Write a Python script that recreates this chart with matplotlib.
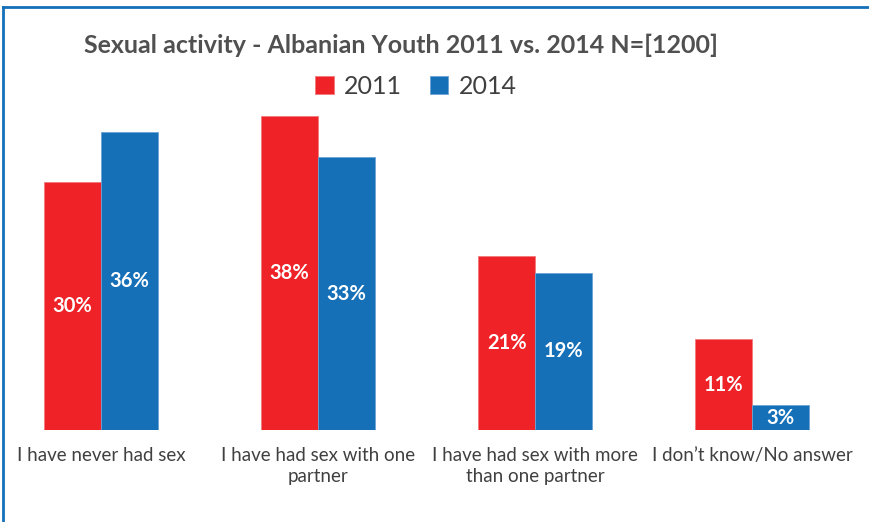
import matplotlib.pyplot as plt
from matplotlib.lines import Line2D
import numpy as np

categories = ["I have never had sex", "I have had sex with one\npartner",
              "I have had sex with more\nthan one partner", "I don\u2019t know/No answer"]
y2011 = [30, 38, 21, 11]
y2014 = [36, 33, 19, 3]

red = '#EE2227'
blue = '#1570B8'
grey = '#404040'

plt.rcParams['font.family'] = ['Lato', 'DejaVu Sans']

fig = plt.figure(figsize=(8.7, 5.22), dpi=100)
ax = fig.add_axes([0, 92/522, 1, 330/522])

x = np.arange(len(categories))
w = 0.262
b1 = ax.bar(x - w/2, y2011, w, color=red, edgecolor='#f27a7c', linewidth=0.6, label='2011')
b2 = ax.bar(x + w/2, y2014, w, color=blue, edgecolor='#6aa3d4', linewidth=0.6, label='2014')

for bars, vals in ((b1, y2011), (b2, y2014)):
    for r, v in zip(bars, vals):
        ax.text(r.get_x() + r.get_width()/2, v/2, f'{v}%', ha='center', va='center',
                color='white', fontsize=14.5, fontweight='bold')

ax.set_xlim((0 - 101)/217, (870 - 101)/217)
ax.set_ylim(0, 330/8.27)
ax.set_xticks(x)
ax.set_xticklabels(categories, fontsize=13.5, color=grey, linespacing=1.3)
ax.tick_params(axis='x', length=0, pad=12)
ax.set_yticks([])
for s in ax.spines.values():
    s.set_visible(False)

fig.text(401/870, 1 - 45/522, 'Sexual activity - Albanian Youth 2011 vs. 2014 N=[1200]',
         ha='center', va='center', fontsize=18, fontweight='bold', color='#505050')

leg = fig.legend(handles=[b1, b2], labels=['2011', '2014'], loc='center',
                 bbox_to_anchor=(416/870, 1 - 86/522), ncol=2, frameon=False,
                 fontsize=18, handlelength=0.75, handleheight=0.75, handletextpad=0.4,
                 columnspacing=1.1, labelcolor=grey)

# outer frame (partly cropped in the original)
fig.add_artist(Line2D([3/870, 3/870], [0, 1 - 7/522], color=blue, lw=2, transform=fig.transFigure))
fig.add_artist(Line2D([3/870, 1], [1 - 7/522, 1 - 7/522], color=blue, lw=2, transform=fig.transFigure))

fig.savefig('out.png', dpi=100)
